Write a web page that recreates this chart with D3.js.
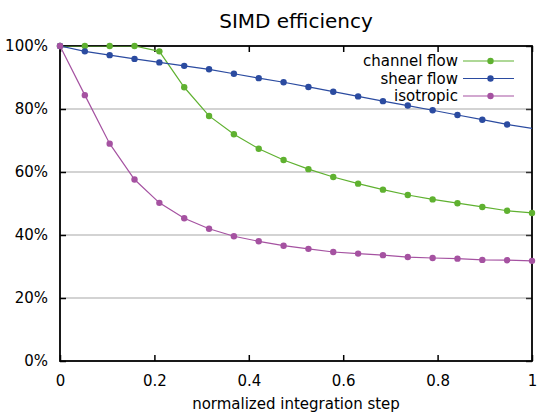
<!DOCTYPE html>
<style>
body { margin: 0; background: #fff; }
text { font-family: "DejaVu Sans", sans-serif; fill: #000; }
.axis .domain { display: none; }
.axis text { font-size: 15px; }
</style>
<svg width="538" height="414"></svg>
<script src="https://d3js.org/d3.v7.min.js"></script>
<script>

// normalized integration step, sampled every 1/19
var steps = d3.range(21).map(function(i) { return i / 19; });

var channelFlow = [100, 100, 100, 100, 98.3, 86.9, 77.8, 72.0, 67.4, 63.8,
                   60.9, 58.4, 56.3, 54.4, 52.7, 51.3, 50.1, 48.9, 47.7, 47.0];
// last sample lies just past the right edge and is clipped
var shearFlow   = [100, 98.3, 97.1, 95.9, 94.8, 93.7, 92.6, 91.2, 89.8, 88.5,
                   87.0, 85.5, 84.0, 82.5, 81.1, 79.6, 78.1, 76.6, 75.1, 72.6];
var isotropic   = [100, 84.4, 69.0, 57.6, 50.2, 45.3, 42.0, 39.6, 38.0, 36.6,
                   35.6, 34.6, 34.1, 33.6, 33.0, 32.7, 32.5, 32.1, 32.0, 31.8];
var shearSteps  = steps.slice(0, 19).concat([steps[20]]);

var xTicks = [0, 0.2, 0.4, 0.6, 0.8, 1];
var yTicks = [0, 20, 40, 60, 80, 100];

var series = [
  {name: "channel flow", values: channelFlow, xs: steps,      color: "#5fb130"},
  {name: "shear flow",   values: shearFlow,   xs: shearSteps, color: "#2b4ba0"},
  {name: "isotropic",    values: isotropic,   xs: steps,      color: "#a552a1"}
];

var svg = d3.select("svg"),
    margin = {top: 46, right: 6, bottom: 53, left: 60},
    width = +svg.attr("width") - margin.left - margin.right,
    height = +svg.attr("height") - margin.top - margin.bottom,
    g = svg.append("g").attr("transform", "translate(" + margin.left + "," + margin.top + ")");

var x = d3.scaleLinear().domain([0, 1]).range([0, width]);
var y = d3.scaleLinear().domain([0, 100]).range([height, 0]);

svg.append("defs").append("clipPath").attr("id", "clip")
  .append("rect").attr("width", width).attr("height", height);

// grid
g.append("g")
  .selectAll("line")
  .data(yTicks.filter(function(d) { return d > 0 && d < 100; }))
  .enter().append("line")
    .attr("x1", 0).attr("x2", width)
    .attr("y1", function(d) { return y(d); })
    .attr("y2", function(d) { return y(d); })
    .attr("stroke", "#c4c4c4")
    .attr("stroke-width", 1.5);

// axes with inward ticks (mirrored on top and right)
var fmtX = function(d) { return d === 0 || d === 1 ? d3.format("d")(d) : d3.format(".1f")(d); };

g.append("g")
    .attr("class", "axis")
    .attr("transform", "translate(0," + height + ")")
    .call(d3.axisBottom(x).tickValues(xTicks).tickSize(-6).tickPadding(14).tickFormat(fmtX))
    .selectAll("line").attr("stroke", "#000").attr("stroke-width", 1.5);

g.append("g")
    .attr("class", "axis")
    .call(d3.axisTop(x).tickValues(xTicks).tickSize(-6).tickFormat(""))
    .selectAll("line").attr("stroke", "#000").attr("stroke-width", 1.5);

g.append("g")
    .attr("class", "axis")
    .call(d3.axisLeft(y).tickValues(yTicks).tickSize(-6).tickPadding(12)
      .tickFormat(function(d) { return d + "%"; }))
    .selectAll("line").attr("stroke", "#000").attr("stroke-width", 1.5);

g.append("g")
    .attr("class", "axis")
    .attr("transform", "translate(" + width + ",0)")
    .call(d3.axisRight(y).tickValues(yTicks).tickSize(-6).tickFormat(""))
    .selectAll("line").attr("stroke", "#333").attr("stroke-width", 1.5);

// border
g.append("rect")
    .attr("width", width).attr("height", height)
    .attr("fill", "none")
    .attr("stroke", "#000")
    .attr("stroke-width", 1.8);

// series
series.forEach(function(s) {
  var pts = s.values.map(function(v, i) { return [s.xs[i], v]; });
  var line = d3.line()
      .x(function(d) { return x(d[0]); })
      .y(function(d) { return y(d[1]); });
  g.append("path")
    .datum(pts)
    .attr("clip-path", "url(#clip)")
    .attr("fill", "none")
    .attr("stroke", s.color)
    .attr("stroke-width", 1.2)
    .attr("d", line);
  g.append("g")
    .selectAll("circle")
    .data(pts.filter(function(d) { return d[0] <= 1; }))
    .enter().append("circle")
      .attr("cx", function(d) { return x(d[0]); })
      .attr("cy", function(d) { return y(d[1]); })
      .attr("r", 3.2)
      .attr("fill", s.color);
});

// legend
var legend = g.append("g")
  .selectAll("g")
  .data(series)
  .enter().append("g")
    .attr("transform", function(d, i) { return "translate(0," + (15 + i * 17.5) + ")"; });

legend.append("text")
    .attr("x", 398)
    .attr("dy", "0.35em")
    .attr("text-anchor", "end")
    .style("font-size", "15px")
    .text(function(d) { return d.name; });

legend.append("line")
    .attr("x1", 403).attr("x2", 454)
    .attr("stroke", function(d) { return d.color; })
    .attr("stroke-width", 1.2);

legend.append("circle")
    .attr("cx", 430.5)
    .attr("r", 3.2)
    .attr("fill", function(d) { return d.color; });

// title and x label
svg.append("text")
    .attr("x", margin.left + width / 2)
    .attr("y", 21)
    .attr("dy", "0.35em")
    .attr("text-anchor", "middle")
    .style("font-size", "20px")
    .text("SIMD efficiency");

svg.append("text")
    .attr("x", margin.left + width / 2)
    .attr("y", 404)
    .attr("dy", "0.35em")
    .attr("text-anchor", "middle")
    .style("font-size", "15px")
    .text("normalized integration step");

</script>
